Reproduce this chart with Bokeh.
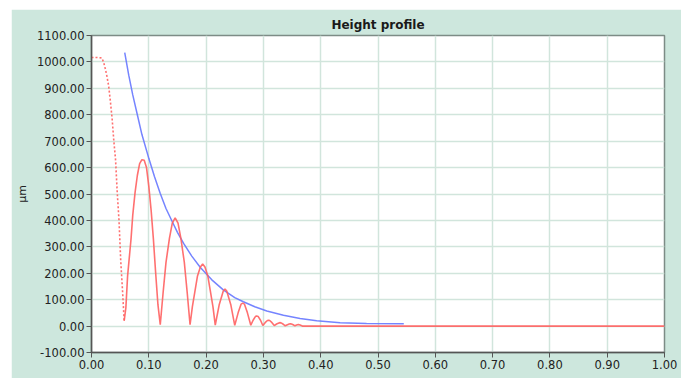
from bokeh.plotting import figure
from bokeh.models import Range1d, FixedTicker, BoxAnnotation
from bokeh.embed import file_html
from bokeh.resources import INLINE

# ---- data ----
approach_x = [0.000, 0.010, 0.018, 0.021, 0.024, 0.027, 0.030, 0.033, 0.036,
              0.039, 0.042, 0.045, 0.048, 0.051, 0.054, 0.057]
approach_y = [1017, 1017, 1015, 1000, 975, 945, 908, 850, 785,
              700, 629, 502, 400, 248, 140, 20]

profile_x = [0.057, 0.060, 0.063, 0.066, 0.069, 0.072, 0.076, 0.080, 0.084, 0.088,
             0.092, 0.096, 0.100, 0.104, 0.108, 0.112, 0.116, 0.120,
             0.125, 0.130, 0.136, 0.141, 0.146, 0.151, 0.156, 0.162, 0.167, 0.172,
             0.176, 0.181, 0.185, 0.190, 0.194, 0.198, 0.203, 0.207, 0.212, 0.216,
             0.223, 0.230, 0.233, 0.236, 0.243, 0.250,
             0.256, 0.261, 0.264, 0.267, 0.272, 0.278,
             0.282, 0.286, 0.288, 0.291, 0.295, 0.299,
             0.303, 0.307, 0.309, 0.311, 0.315, 0.319,
             0.323, 0.327, 0.329, 0.331, 0.334, 0.338,
             0.342, 0.345, 0.347, 0.349, 0.352, 0.355,
             0.358, 0.361, 0.364, 0.368, 0.400, 1.000]
profile_y = [20, 70, 190, 260, 330, 420, 505, 570, 615, 630,
             628, 600, 530, 440, 330, 200, 80, 5,
             127, 241, 332, 390, 410, 390, 332, 241, 127, 5,
             73, 138, 190, 224, 235, 224, 190, 138, 73, 4,
             82, 133, 140, 133, 82, 3,
             51, 83, 87, 83, 51, 3,
             22, 36, 38, 36, 22, 2,
             13, 21, 22, 21, 13, 2,
             8, 12, 13, 12, 8, 1,
             5, 8, 9, 8, 5, 1,
             4, 6, 4, 0, 0, 0]

envelope_x = [0.058, 0.065, 0.072, 0.080, 0.088, 0.100, 0.110, 0.120, 0.130, 0.141,
              0.150, 0.161, 0.175, 0.190, 0.210, 0.230, 0.250, 0.265, 0.285, 0.306,
              0.335, 0.364, 0.393, 0.434, 0.480, 0.545]
envelope_y = [1035, 950, 875, 800, 725, 635, 565, 502, 445, 395,
              355, 312, 265, 222, 175, 137, 108, 92, 73, 57,
              41, 29, 20, 13, 10, 9]

x_ticks = [0.0, 0.1, 0.2, 0.3, 0.4, 0.5, 0.6, 0.7, 0.8, 0.9, 1.0]
x_tick_labels = ["0.00", "0.10", "0.20", "0.30", "0.40", "0.50",
                 "0.60", "0.70", "0.80", "0.90", "1.00"]
y_ticks = [-100, 0, 100, 200, 300, 400, 500, 600, 700, 800, 900, 1000, 1100]
y_tick_labels = ["-100.00", "0.00", "100.00", "200.00", "300.00", "400.00",
                 "500.00", "600.00", "700.00", "800.00", "900.00", "1000.00", "1100.00"]

title_text = "Height profile"
y_label = "µm"

# ---- styling ----
BG = "#cde7dd"
GRID = "#d1e5dc"
FONT = "DejaVu Sans"

p = figure(width=670, height=369, output_backend="svg", toolbar_location=None,
           x_range=Range1d(0, 1), y_range=Range1d(-100, 1100),
           min_border_left=80, min_border_right=17, min_border_top=26, min_border_bottom=26,
           title=title_text, margin=(9, 0, 0, 11))
p.border_fill_color = BG
p.background_fill_color = "white"
p.outline_line_color = "#7d8c86"
p.outline_line_width = 1.5

p.title.align = "center"
p.title.text_font = FONT
p.title.text_font_size = "12px"
p.title.text_font_style = "bold"
p.title.text_color = "#1a1a1a"
p.title.standoff = 8

for ax, ticks, labels in ((p.xaxis[0], x_ticks, x_tick_labels), (p.yaxis[0], y_ticks, y_tick_labels)):
    ax.ticker = FixedTicker(ticks=ticks)
    ax.major_label_overrides = {t: l for t, l in zip(ticks, labels)}
    ax.minor_tick_line_color = None
    ax.axis_line_color = "#555555"
    ax.axis_line_width = 1.5
    ax.major_tick_line_color = "#555555"
    ax.major_tick_out = 5
    ax.major_tick_in = 0
    ax.major_label_text_font = FONT
    ax.major_label_text_font_size = "11.5px"
    ax.major_label_text_color = "#222222"
    ax.major_label_standoff = 2

p.xaxis.axis_label = None
p.yaxis.axis_label = y_label
p.yaxis.axis_label_text_font = FONT
p.yaxis.axis_label_text_font_size = "11px"
p.yaxis.axis_label_text_font_style = "normal"
p.yaxis.axis_label_text_color = "#222222"
p.yaxis.axis_label_standoff = 5

p.xgrid.grid_line_color = GRID
p.ygrid.grid_line_color = GRID
p.xgrid.grid_line_width = 1.5
p.ygrid.grid_line_width = 1.5

# light side panel at the right edge (cut-off legend area)
p.add_layout(BoxAnnotation(left=656, right=670, top=26, bottom=158,
                           left_units="canvas", right_units="canvas",
                           top_units="canvas", bottom_units="canvas",
                           fill_color="#e2f1eb", fill_alpha=1.0,
                           line_color="#c4ddd3", line_alpha=1.0, level="overlay"))

p.line(approach_x, approach_y, line_color="#ff6060", line_width=1.6, line_dash="2 2", line_alpha=0.9)
p.line(envelope_x, envelope_y, line_color="#6677ff", line_width=1.5, line_alpha=0.9)
p.line(profile_x, profile_y, line_color="#ff6060", line_width=1.6, line_alpha=0.9)

open("out.html", "w").write(file_html(p, INLINE))
